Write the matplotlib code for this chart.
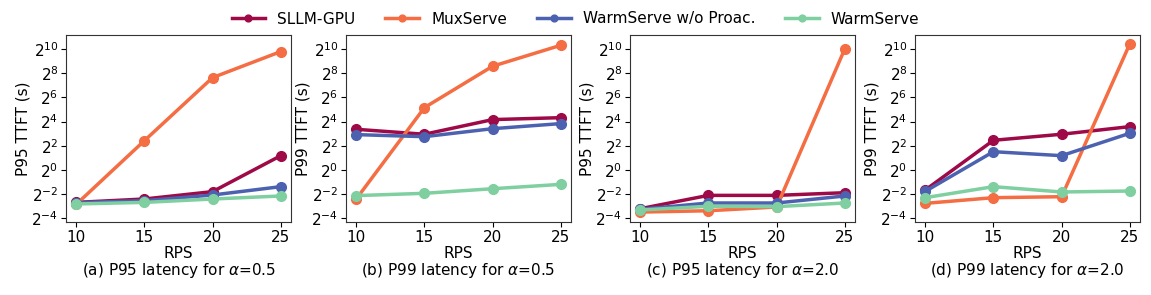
import numpy as np
import matplotlib
matplotlib.use('Agg')
import matplotlib.pyplot as plt
from matplotlib.ticker import FixedLocator

rps = [10, 15, 20, 25]
methods = ['SLLM-GPU', 'MuxServe', 'WarmServe w/o Proac.', 'WarmServe']
colors = ['#9e0a47', '#f46d43', '#4c62b0', '#7fcfa0']

# log2 of TTFT (s)
a_sllm = [-2.68, -2.40, -1.79, 1.18]
a_mux = [-2.84, 2.42, 7.63, 9.78]
a_woproac = [-2.70, -2.54, -2.07, -1.38]
a_warm = [-2.81, -2.68, -2.40, -2.15]

b_sllm = [3.36, 2.95, 4.16, 4.32]
b_mux = [-2.40, 5.15, 8.57, 10.30]
b_woproac = [2.92, 2.75, 3.41, 3.83]
b_warm = [-2.12, -1.93, -1.55, -1.19]

c_sllm = [-3.20, -2.10, -2.10, -1.88]
c_mux = [-3.48, -3.37, -3.06, 10.00]
c_woproac = [-3.25, -2.73, -2.73, -2.15]
c_warm = [-3.31, -3.00, -3.03, -2.73]

d_sllm = [-1.66, 2.45, 2.95, 3.58]
d_mux = [-2.76, -2.29, -2.21, 10.41]
d_woproac = [-1.77, 1.51, 1.18, 3.03]
d_warm = [-2.29, -1.38, -1.82, -1.74]

panels = [
	('P95 TTFT (s)', '(a) P95 latency for $\\alpha$=0.5', [a_sllm, a_mux, a_woproac, a_warm]),
	('P99 TTFT (s)', '(b) P99 latency for $\\alpha$=0.5', [b_sllm, b_mux, b_woproac, b_warm]),
	('P95 TTFT (s)', '(c) P95 latency for $\\alpha$=2.0', [c_sllm, c_mux, c_woproac, c_warm]),
	('P99 TTFT (s)', '(d) P99 latency for $\\alpha$=2.0', [d_sllm, d_mux, d_woproac, d_warm]),
]

plt.rcParams['font.family'] = ['DejaVu Sans']
plt.rcParams['font.size'] = 11

fig = plt.figure(figsize=(11.51, 2.95), dpi=100)
W, H = 1151.0, 295.0
lefts = [66, 346, 630, 915]
ax_w = 225
top, bottom = 35, 222

handles = []
for i, (ylab, cap, series) in enumerate(panels):
	ax = fig.add_axes([lefts[i] / W, 1 - bottom / H, ax_w / W, (bottom - top) / H])
	for j, vals in enumerate(series):
		y = 2.0 ** np.array(vals)
		h, = ax.plot(rps, y, '-o', color=colors[j], lw=2.5, ms=7, label=methods[j])
		if i == 0:
			handles.append(h)
	ax.set_yscale('log', base=2)
	ax.set_ylim(2 ** -4.3, 2 ** 11.15)
	ax.yaxis.set_major_locator(FixedLocator([2.0 ** k for k in range(-4, 11, 2)]))
	ax.yaxis.set_minor_locator(FixedLocator([]))
	ax.set_xticks(rps)
	ax.set_xlim(9.25, 25.75)
	ax.set_ylabel(ylab, fontsize=11, labelpad=1)
	ax.set_xlabel('RPS', fontsize=11, labelpad=1)
	ax.tick_params(labelsize=11, pad=2)
	ax.text((lefts[i] + ax_w / 2) / W, 1 - 271 / H, cap, transform=fig.transFigure,
		ha='center', va='center', fontsize=11)
	for s in ax.spines.values():
		s.set_color('#333333')

fig.legend(handles=handles, labels=methods, loc='center', bbox_to_anchor=(0.5, 1 - 19 / H),
	ncol=4, frameon=False, fontsize=11, handlelength=2.2, handletextpad=0.8,
	columnspacing=1.95, markerscale=0.7)

fig.savefig('out.png', dpi=100)
